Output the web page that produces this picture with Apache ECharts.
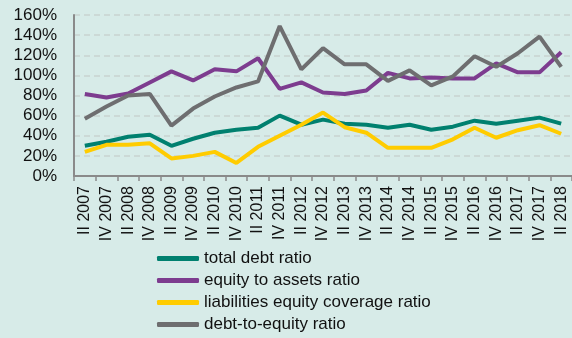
<!DOCTYPE html>
<html><head><meta charset="utf-8">
<script src="https://cdn.jsdelivr.net/npm/echarts@6/dist/echarts.min.js"></script>
<style>html,body{margin:0;padding:0;background:#d7ebe8;}#c{width:572px;height:338px;}</style>
</head><body><div id="c"></div>
<script>
const categories = ["II 2007","IV 2007","II 2008","IV 2008","II 2009","IV 2009","II 2010","IV 2010","II 2011","IV 2011","II 2012","IV 2012","II 2013","IV 2013","II 2014","IV 2014","II 2015","IV 2015","II 2016","IV 2016","II 2017","IV 2017","II 2018"];
const totalDebt = [30,34,39,41,30,37,43,46,48,60,51,56,52,51,48,51,46,49,55,52,55,58,52];
const equityToAssets = [81.5,78,82,93,104,95,106,104,117,86.5,93,83,81.5,85,102.5,97,98,97,97,112,103,103,123];
const liabCoverage = [24,31,31,32.5,17.5,20,24,13,29,40,51,63,48.5,43,28,28,28,36.5,48,38,45.5,50.5,42];
const debtToEquity = [57,69,80,81.5,50,67,79,88,94,149,106,127,111,111,94.5,105,90,99,119,108.5,122,138.5,108.5];
const yTicks = ["0%","20%","40%","60%","80%","100%","120%","140%","160%"];

const chart = echarts.init(document.getElementById('c'));
const font = "'Liberation Sans', Arial, sans-serif";
function s(name, data, color){
  return {name, type:'line', data, symbol:'none', smooth:false,
    lineStyle:{width:4, color}, itemStyle:{color}, animation:false};
}
chart.setOption({
  backgroundColor:'#d7ebe8',
  animation:false,
  grid:{left:74, right:-1, top:15, bottom:162},
  legend:{orient:'vertical', left:157, top:250, padding:0, itemWidth:42, itemHeight:5, itemGap:5,
    icon:'roundRect',
    textStyle:{fontFamily:font, fontSize:17, color:'#111', lineHeight:17}},
  xAxis:{type:'category', data:categories, boundaryGap:true,
    axisLine:{lineStyle:{color:'#8a8a8a', width:2}},
    axisTick:{show:true, length:5, lineStyle:{color:'#8a8a8a', width:1.5}},
    axisLabel:{rotate:90, interval:0, fontFamily:font, fontSize:16, color:'#111', margin:10}},
  yAxis:{type:'value', min:0, max:160, interval:20,
    axisLine:{show:true, lineStyle:{color:'#8a8a8a', width:2}},
    axisTick:{show:false},
    splitLine:{lineStyle:{color:'#c9d3d0', type:[6,4], width:1.5}},
    axisLabel:{formatter:(v)=>yTicks[Math.round(v/20)], fontFamily:font, fontSize:17, color:'#111', margin:17}},
  series:[
    s('total debt ratio', totalDebt, '#00806f'),
    s('equity to assets ratio', equityToAssets, '#7d3c8f'),
    s('liabilities equity coverage ratio', liabCoverage, '#ffcc00'),
    s('debt-to-equity ratio', debtToEquity, '#6e6e70')
  ]
});
</script></body></html>
